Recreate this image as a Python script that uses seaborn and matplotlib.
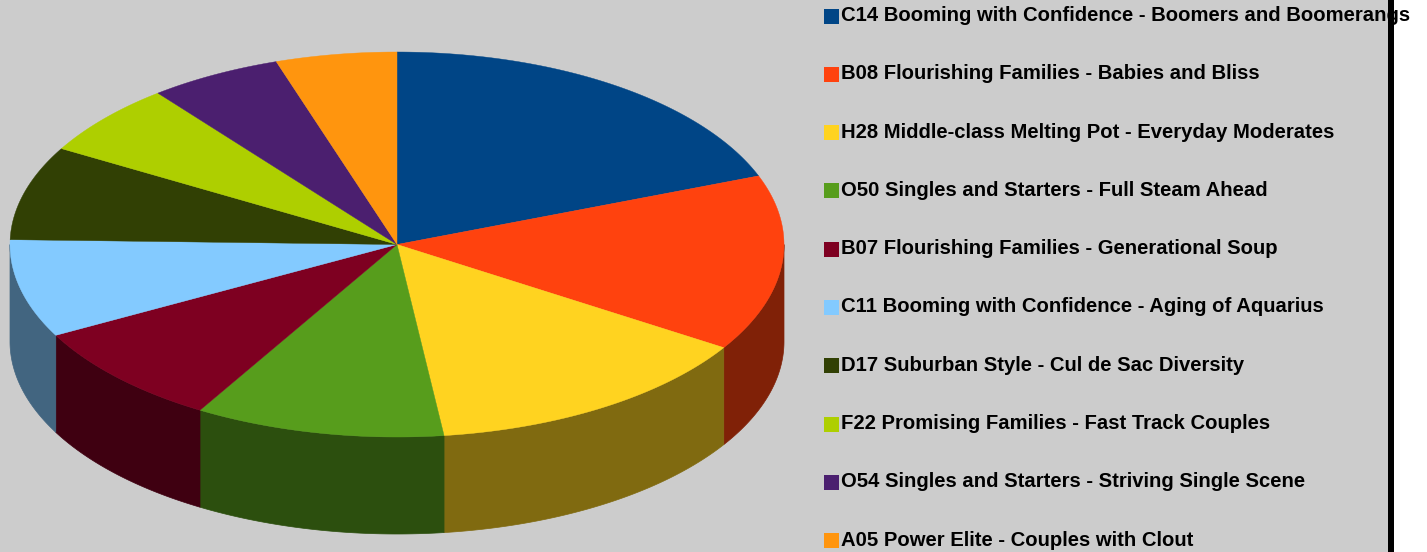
"""3D style pie of segment shares, legend down the right side."""

import numpy as np
import matplotlib
matplotlib.use("Agg")
import matplotlib.pyplot as plt
from matplotlib.patches import Rectangle
import seaborn as sns

labels = [
    "C14 Booming with Confidence - Boomers and Boomerangs",
    "B08 Flourishing Families - Babies and Bliss",
    "H28 Middle-class Melting Pot - Everyday Moderates",
    "O50 Singles and Starters - Full Steam Ahead",
    "B07 Flourishing Families - Generational Soup",
    "C11 Booming with Confidence - Aging of Aquarius",
    "D17 Suburban Style - Cul de Sac Diversity",
    "F22 Promising Families - Fast Track Couples",
    "O54 Singles and Starters - Striving Single Scene",
    "A05 Power Elite - Couples with Clout",
]
shares = [19.2, 14.8, 14.06, 10.44, 8.68, 8.22, 7.9, 6.1, 5.55, 5.05]
colors = ["#004586", "#ff420e", "#ffd320", "#579d1c", "#7e0021",
          "#83caff", "#314004", "#aecf00", "#4b1f6f", "#ff950e"]

sns.set_theme(style="white")
plt.rcParams["font.family"] = ["Liberation Sans", "DejaVu Sans"]

cx, cy, rx, ry, depth = 397, 244.5, 387, 192.5, 97

fig = plt.figure(figsize=(14.27, 5.52), dpi=100, facecolor="white")
ax = fig.add_axes([0, 0, 1, 1])
ax.set_xlim(0, 1427)
ax.set_ylim(552, 0)
ax.axis("off")

ax.add_patch(Rectangle((0, 0), 1391, 552, color="#cccccc", zorder=0))

edges = np.cumsum([0] + shares) / sum(shares) * 2 * np.pi


def rim(a0, a1):
    t = np.linspace(a0, a1, 80)
    return cx + rx * np.sin(t), cy - ry * np.cos(t)


# side walls first, only the front half (pi/2 to 3pi/2) can be seen
for i, c in enumerate(colors):
    a0 = max(edges[i], np.pi / 2)
    a1 = min(edges[i + 1], 3 * np.pi / 2)
    if a1 <= a0:
        continue
    x, y = rim(a0, a1)
    dark = tuple(v * 0.5 for v in matplotlib.colors.to_rgb(c))
    ax.fill(np.r_[x, x[::-1]], np.r_[y, y[::-1] + depth], color=dark, lw=0.5, zorder=1)

# top face
for i, c in enumerate(colors):
    x, y = rim(edges[i], edges[i + 1])
    ax.fill(np.r_[cx, x], np.r_[cy, y], color=c, lw=0.3, zorder=2)

# legend
for i, (lab, c) in enumerate(zip(labels, colors)):
    y = 15.5 + i * 58.3
    ax.add_patch(Rectangle((824, y - 7), 15, 15, color=c, lw=0, zorder=3))
    ax.text(841, y, lab, fontsize=14.6, fontweight="bold", color="black", va="center", ha="left", zorder=3)

ax.add_patch(Rectangle((1387.5, 0), 6.5, 552, color="black", lw=0, zorder=4))

fig.savefig("out.png", dpi=100)
